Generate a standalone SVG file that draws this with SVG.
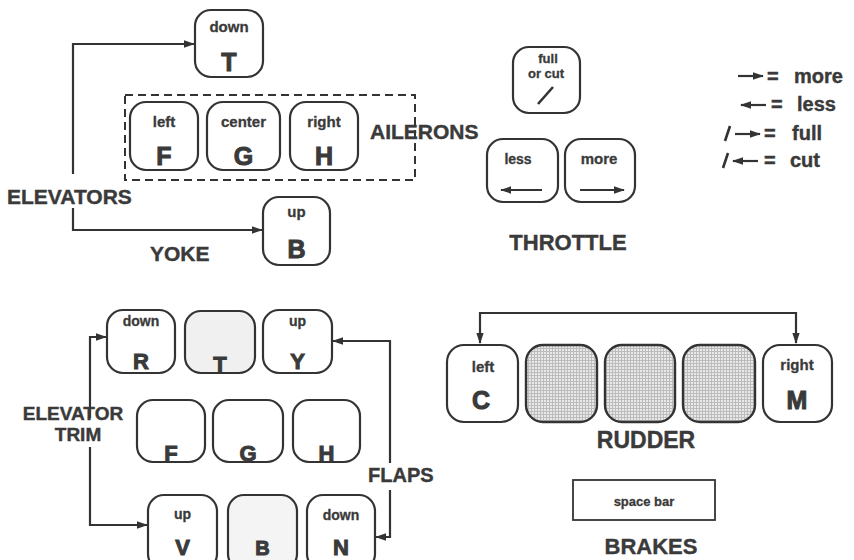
<svg xmlns="http://www.w3.org/2000/svg" width="854" height="560" viewBox="0 0 854 560">
<defs>
<style>
.key{fill:#fff;stroke:#333;stroke-width:2.2}
.shade{fill:url(#grid);stroke:#333;stroke-width:2.4}
.lite{fill:#f0f0f0;stroke:#333;stroke-width:2.2}
.lbl{font-family:"Liberation Sans",Arial,sans-serif;font-weight:bold;font-size:14px;fill:#3a3a3a;text-anchor:middle;stroke:#3a3a3a;stroke-width:0.3}
.let{font-family:"Liberation Sans",Arial,sans-serif;font-weight:bold;font-size:24px;fill:#3a3a3a;text-anchor:middle;stroke:#3a3a3a;stroke-width:1}
.cap{font-family:"Liberation Sans",Arial,sans-serif;font-weight:bold;font-size:21px;fill:#3a3a3a;stroke:#3a3a3a;stroke-width:0.4}
.leg{font-family:"Liberation Sans",Arial,sans-serif;font-weight:bold;font-size:20px;fill:#3a3a3a;stroke:#3a3a3a;stroke-width:0.4}
.con{fill:none;stroke:#333;stroke-width:2.2}
.arr{fill:none;stroke:#333;stroke-width:2.2;marker-end:url(#ah)}
</style>
<marker id="ah" viewBox="0 0 12 8" refX="11" refY="4" markerWidth="5" markerHeight="3.4" orient="auto" markerUnits="strokeWidth">
<path d="M0,0 L12,4 L0,8 Z" fill="#333"/>
</marker>
<pattern id="grid" width="3" height="3" patternUnits="userSpaceOnUse">
<rect width="3" height="3" fill="#e8e8e8"/>
<path d="M0,0.5 H3 M0.5,0 V3" stroke="#bcbcbc" stroke-width="1"/>
</pattern>
</defs>
<rect width="854" height="560" fill="#fff"/>

<g id="connectors">
<polyline class="arr" points="73,174 73,44 194,44"/>
<polyline class="arr" points="73,208 73,230 262,230"/>
<rect x="125" y="95" width="290" height="85" fill="none" stroke="#333" stroke-width="2" stroke-dasharray="8,5"/>
<polyline class="arr" points="90,418 90,337 106,337"/>
<polyline class="arr" points="90,447 90,525 147,525"/>
<polyline class="arr" points="390,463 390,341 333,341"/>
<polyline class="arr" points="390,490 390,537 376,537"/>
<line class="con" x1="480" y1="313" x2="796" y2="313"/>
<line class="arr" x1="480" y1="312" x2="480" y2="343"/>
<line class="arr" x1="796" y1="312" x2="796" y2="343"/>
</g>

<g id="yoke">
<g id="key-T-down"><rect class="key" x="195" y="10" width="68" height="67" rx="16"/><text class="lbl" x="229" y="32" style="font-size:15px">down</text><text class="let" x="229" y="71" style="font-size:25px">T</text></g>
<g id="key-F-left"><rect class="key" x="130" y="102" width="68" height="68" rx="16"/><text class="lbl" x="164" y="127" style="font-size:15px">left</text><text class="let" x="164" y="165" style="font-size:25px">F</text></g>
<g id="key-G-center"><rect class="key" x="207" y="102" width="73" height="68" rx="16"/><text class="lbl" x="243.5" y="127" style="font-size:15px">center</text><text class="let" x="243.5" y="165" style="font-size:25px">G</text></g>
<g id="key-H-right"><rect class="key" x="290" y="102" width="68" height="68" rx="16"/><text class="lbl" x="324" y="127" style="font-size:15px">right</text><text class="let" x="324" y="165" style="font-size:25px">H</text></g>
<g id="key-B-up"><rect class="key" x="263" y="197" width="67" height="68" rx="16"/><text class="lbl" x="296.5" y="217" style="font-size:15px">up</text><text class="let" x="296.5" y="258" style="font-size:25px">B</text></g>
<text class="cap" x="370" y="139">AILERONS</text>
<text class="cap" x="7" y="204">ELEVATORS</text>
<text class="cap" x="150" y="261">YOKE</text>
</g>

<g id="throttle">
<g id="key-full-cut"><rect class="key" x="513" y="47" width="67" height="66" rx="16"/><text class="lbl" x="548" y="63" style="font-size:13px">full</text><text class="lbl" x="546" y="78" style="font-size:13px">or cut</text><line x1="553" y1="87" x2="538" y2="104" stroke="#333" stroke-width="2.6"/></g>
<g id="key-less"><rect class="key" x="487" y="139" width="71" height="63" rx="16"/><text class="lbl" x="518" y="164">less</text><line class="arr" x1="542" y1="190" x2="501" y2="190"/></g>
<g id="key-more"><rect class="key" x="565" y="139" width="70" height="63" rx="16"/><text class="lbl" x="599" y="164" style="font-size:15px">more</text><line class="arr" x1="580" y1="190" x2="624" y2="190"/></g>
<text class="cap" x="568" y="250" text-anchor="middle" style="font-size:22px">THROTTLE</text>
</g>

<g id="legend">
<line class="arr" x1="738" y1="76" x2="763" y2="76"/><text class="leg" x="767" y="83">=</text><text class="leg" x="794" y="83">more</text>
<line class="arr" x1="766" y1="105" x2="741" y2="105"/><text class="leg" x="771" y="111">=</text><text class="leg" x="797" y="111">less</text>
<line x1="730" y1="126" x2="725" y2="141" stroke="#333" stroke-width="2.6"/><line class="arr" x1="735" y1="134" x2="760" y2="134"/><text class="leg" x="764" y="140">=</text><text class="leg" x="792" y="140">full</text>
<line x1="728" y1="153" x2="723" y2="168" stroke="#333" stroke-width="2.6"/><line class="arr" x1="758" y1="161" x2="733" y2="161"/><text class="leg" x="764" y="167">=</text><text class="leg" x="790" y="167">cut</text>
</g>

<g id="trim-flaps">
<g id="key-R-down"><rect class="key" x="107" y="310" width="68" height="63" rx="16"/><text class="lbl" x="141" y="326">down</text><text class="let" x="141" y="369" style="font-size:22px">R</text></g>
<g id="key-T2"><rect class="lite" x="185" y="311" width="70" height="62" rx="16"/><text class="let" x="220" y="372" style="font-size:22px">T</text></g>
<g id="key-Y-up"><rect class="key" x="263" y="310" width="69" height="63" rx="16"/><text class="lbl" x="297.5" y="326">up</text><text class="let" x="297.5" y="369" style="font-size:22px">Y</text></g>
<g id="key-F2"><rect class="key" x="137" y="400" width="68" height="62" rx="16"/><text class="let" x="171" y="461" style="font-size:22px">F</text></g>
<g id="key-G2"><rect class="key" x="213" y="400" width="70" height="62" rx="16"/><text class="let" x="248" y="461" style="font-size:22px">G</text></g>
<g id="key-H2"><rect class="key" x="293" y="400" width="67" height="62" rx="16"/><text class="let" x="326.5" y="461" style="font-size:22px">H</text></g>
<g id="key-V-up"><rect class="key" x="148" y="495" width="69" height="75" rx="16"/><text class="lbl" x="182.5" y="519">up</text><text class="let" x="182.5" y="555" style="font-size:22px">V</text></g>
<g id="key-B2"><rect class="lite" x="228" y="495" width="69" height="75" rx="16" style="fill:#f4f4f4"/><text class="let" x="262.5" y="555" style="font-size:20px">B</text></g>
<g id="key-N-down"><rect class="key" x="307" y="495" width="68" height="75" rx="16"/><text class="lbl" x="341" y="520">down</text><text class="let" x="341" y="555" style="font-size:22px">N</text></g>
<text class="cap" x="73" y="420" text-anchor="middle" style="font-size:19px">ELEVATOR</text>
<text class="cap" x="78" y="441" text-anchor="middle" style="font-size:19px">TRIM</text>
<text class="cap" x="368" y="482" style="font-size:20px">FLAPS</text>
</g>

<g id="rudder">
<g id="key-C-left"><rect class="key" x="447" y="345" width="71" height="77" rx="17"/><text class="lbl" x="483" y="372" style="font-size:15px">left</text><text class="let" x="481" y="409" style="font-size:25px">C</text></g>
<g id="key-sh1"><rect class="shade" x="526" y="345" width="71" height="77" rx="17"/></g>
<g id="key-sh2"><rect class="shade" x="605" y="345" width="70" height="77" rx="17"/></g>
<g id="key-sh3"><rect class="shade" x="683" y="345" width="72" height="77" rx="17"/></g>
<g id="key-M-right"><rect class="key" x="763" y="345" width="69" height="77" rx="17"/><text class="lbl" x="797" y="370" style="font-size:15px">right</text><text class="let" x="797" y="409" style="font-size:25px">M</text></g>
<text class="cap" x="646" y="448" text-anchor="middle" style="font-size:23px">RUDDER</text>
</g>

<g id="brakes">
<rect x="573" y="480" width="142" height="40" fill="#fff" stroke="#333" stroke-width="1.8"/>
<text class="lbl" x="644" y="506" style="font-size:13px">space bar</text>
<text class="cap" x="651" y="554" text-anchor="middle" style="font-size:22px">BRAKES</text>
</g>
</svg>
